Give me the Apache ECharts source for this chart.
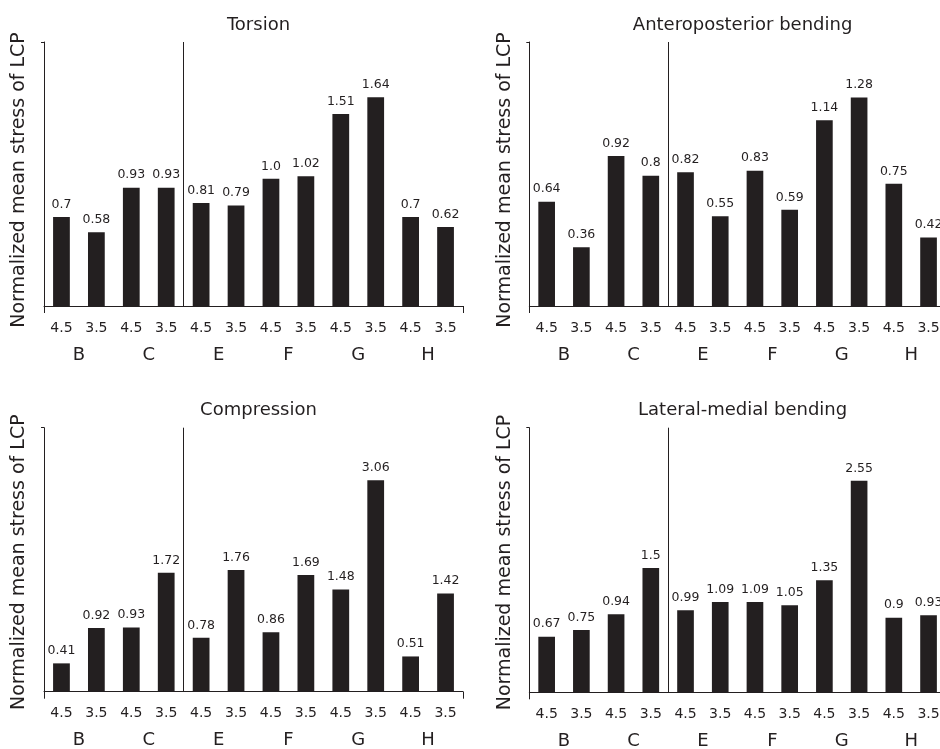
<!DOCTYPE html>
<html>
<head>
<meta charset="utf-8">
<script src="https://cdn.jsdelivr.net/npm/echarts@6/dist/echarts.min.js"></script>
<style>
  html, body { margin: 0; padding: 0; background: #fff; }
  #chart { width: 940px; height: 749px; }
</style>
</head>
<body>
<div id="chart"></div>
<script>
// data
const subLabels = ['4.5', '3.5', '4.5', '3.5', '4.5', '3.5', '4.5', '3.5', '4.5', '3.5', '4.5', '3.5'];
const groups = ['B', 'C', 'E', 'F', 'G', 'H'];
const torsion = [0.7, 0.58, 0.93, 0.93, 0.81, 0.79, 1.0, 1.02, 1.51, 1.64, 0.7, 0.62];
const apBending = [0.64, 0.36, 0.92, 0.8, 0.82, 0.55, 0.83, 0.59, 1.14, 1.28, 0.75, 0.42];
const compression = [0.41, 0.92, 0.93, 1.72, 0.78, 1.76, 0.86, 1.69, 1.48, 3.06, 0.51, 1.42];
const lmBending = [0.67, 0.75, 0.94, 1.5, 0.99, 1.09, 1.09, 1.05, 1.35, 2.55, 0.9, 0.93];
const panelTitles = ['Torsion', 'Anteroposterior bending', 'Compression', 'Lateral-medial bending'];
const yMax = [2.075, 1.62, 3.82, 3.19];
const yName = 'Normalized mean stress of LCP';

const panelData = [torsion, apBending, compression, lmBending];
const ink = '#231f20';
const font = 'DejaVu Sans';

// panel boxes (grid) and title spots
const boxes = [
  { left: 44, top: 42, width: 419, height: 264, titleTop: 11, nameShift: 12 },
  { left: 529.3, top: 42, width: 416.6, height: 264, titleTop: 11, nameShift: 12 },
  { left: 44, top: 427.7, width: 419, height: 264, titleTop: 396, nameShift: 5 },
  { left: 529.3, top: 427.7, width: 416.6, height: 264.6, titleTop: 396, nameShift: 5 }
];

// show 1.0 as "1.0" like the figure does
const fmt = (v) => Number.isInteger(v) ? v.toFixed(1) : String(v);

let grid = [], xAxis = [], yAxis = [], series = [], title = [];

boxes.forEach((b, i) => {
  grid.push({
    left: b.left, top: b.top, width: b.width, height: b.height,
    outerBoundsMode: 'none', containLabel: false
  });

  title.push({
    text: panelTitles[i],
    left: b.left + b.width / 2,
    top: b.titleTop,
    textAlign: 'center',
    textStyle: { fontSize: 18, fontWeight: 'normal', color: ink, fontFamily: font }
  });

  // 4.5 / 3.5 row, baseline, end ticks and the C|E divider
  xAxis.push({
    gridIndex: i,
    type: 'category',
    data: subLabels,
    position: 'bottom',
    axisLine: { show: true, lineStyle: { color: ink, width: 1 } },
    axisTick: { show: true, interval: (idx) => idx === 0, length: 7, lineStyle: { color: ink, width: 1 } },
    axisLabel: { interval: 0, margin: 15, fontSize: 14, color: ink, fontFamily: font },
    splitLine: {
      show: true,
      interval: (idx) => idx === 0 || idx === 4,
      showMinLine: false,
      showMaxLine: false,
      lineStyle: { color: ink, width: 1, type: 'solid' }
    }
  });

  // group letters, moved from top to below the first label row
  xAxis.push({
    gridIndex: i,
    type: 'category',
    data: groups,
    position: 'top',
    offset: -(b.height + 58),
    axisLine: { show: false },
    axisTick: { show: false },
    axisLabel: { interval: 0, margin: 0, fontSize: 18, color: ink, fontFamily: font },
    splitLine: { show: false }
  });

  yAxis.push({
    gridIndex: i,
    type: 'value',
    min: 0,
    max: yMax[i],
    axisLine: { show: true, lineStyle: { color: ink, width: 1 } },
    axisTick: { show: true, customValues: [yMax[i]], length: 3, lineStyle: { color: ink } },
    axisLabel: { show: false },
    splitLine: { show: false },
    name: yName,
    nameLocation: 'middle',
    nameGap: 15,
    nameTextStyle: { fontSize: 19, color: ink, fontFamily: font, padding: [0, b.nameShift, 0, 0] }
  });

  series.push({
    type: 'bar',
    xAxisIndex: 2 * i,
    yAxisIndex: i,
    data: panelData[i],
    barWidth: '48%',
    itemStyle: { color: ink },
    label: {
      show: true,
      position: 'top',
      distance: 6,
      fontSize: 12.5,
      color: ink,
      fontFamily: font,
      formatter: (p) => fmt(p.value)
    }
  });
});

const chart = echarts.init(document.getElementById('chart'));
chart.setOption({
  animation: false,
  backgroundColor: '#fff',
  textStyle: { fontFamily: font },
  title: title,
  grid: grid,
  xAxis: xAxis,
  yAxis: yAxis,
  series: series
});
</script>
</body>
</html>
